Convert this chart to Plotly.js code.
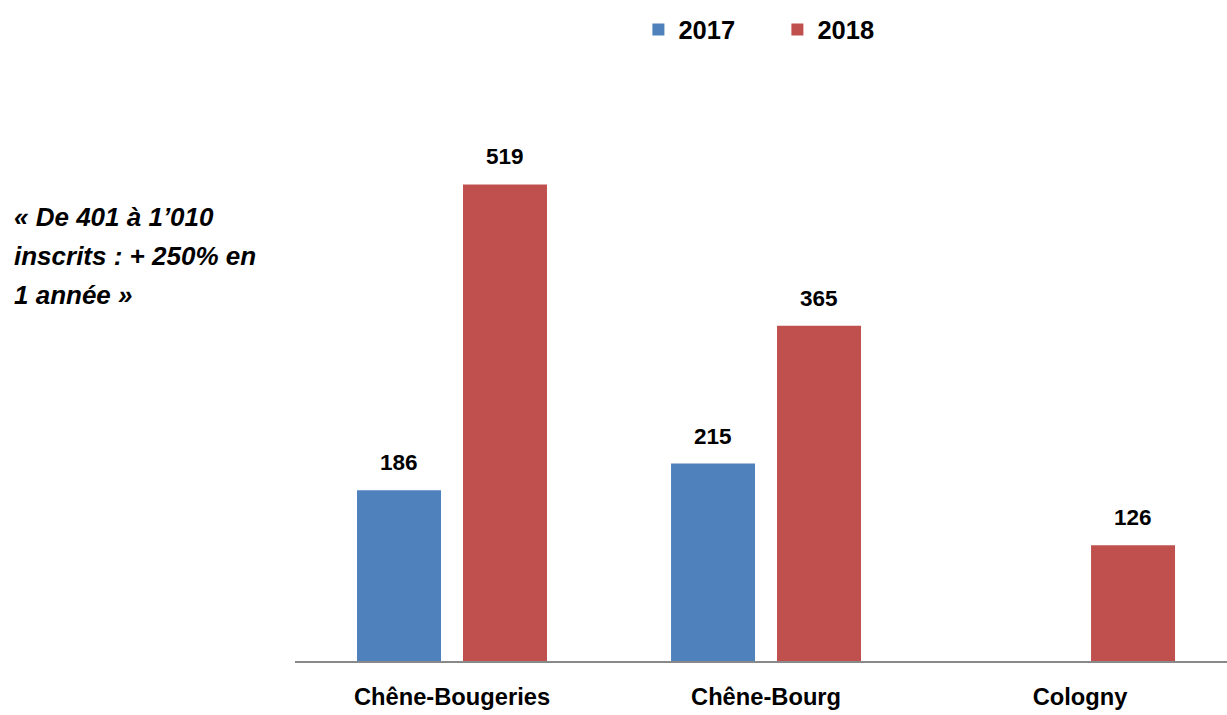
<!DOCTYPE html>
<html>
<head>
<meta charset="utf-8">
<script src="https://cdn.plot.ly/plotly-3.0.1.min.js"></script>
<style>html,body{margin:0;padding:0;background:#fff;}#chart{width:1227px;height:715px;}</style>
</head>
<body>
<div id="chart"></div>
<script>
const categories = ["Chêne-Bougeries", "Chêne-Bourg", "Cologny"];
const values2017 = [186, 215, null];
const values2018 = [519, 365, 126];
const seriesNames = ["2017", "2018"];
const noteLines = ["« De 401 à 1’010", "inscrits : + 250% en", "1 année »"];

const FONT = '"Liberation Sans", Arial, sans-serif';
const COLORS = ['#4F81BD', '#C0504D'];

// layout constants
const W = 1227, H = 715, ML = 295, MT = 110, MB = 54;
const XRANGE = [-0.5, 2.468];
const BARGAP = 0.325, BARGROUPGAP = 0.2075;
const pxPerCat = (W - ML) / (XRANGE[1] - XRANGE[0]);
const slotPx = pxPerCat * (1 - BARGAP) / 2;

const traces = [
  {type: 'bar', name: seriesNames[0], x: categories, y: values2017, marker: {color: COLORS[0]}},
  {type: 'bar', name: seriesNames[1], x: categories, y: values2018, marker: {color: COLORS[1]}}
];

const labelFont = {family: FONT, size: 22.5, color: '#000', weight: 'bold'};
const annotations = [];
[values2017, values2018].forEach((vals, si) => {
  vals.forEach((v, i) => {
    if (v == null) return;
    annotations.push({
      x: categories[i], y: v, xref: 'x', yref: 'y',
      text: String(v), showarrow: false, xanchor: 'center', yanchor: 'bottom',
      xshift: (si === 0 ? -1 : 1) * slotPx / 2, yshift: 13, font: labelFont
    });
  });
});
const notePaperY = [0.8058, 0.7350, 0.6642];
noteLines.forEach((line, i) => {
  annotations.push({
    xref: 'paper', yref: 'paper', x: -0.3036, y: notePaperY[i], xanchor: 'left', yanchor: 'middle',
    align: 'left', showarrow: false, text: line,
    font: {family: FONT, size: 26, color: '#000', weight: 'bold', style: 'italic'}
  });
});

const layout = {
  width: W, height: H,
  margin: {l: ML, r: 0, t: MT, b: MB, pad: 0, autoexpand: false},
  paper_bgcolor: '#fff', plot_bgcolor: '#fff',
  barmode: 'group', bargap: BARGAP, bargroupgap: BARGROUPGAP,
  font: {family: FONT, color: '#000'},
  showlegend: true,
  legend: {orientation: 'h', x: 0.5176, xanchor: 'center', y: 1.1454, yanchor: 'middle',
           font: {family: FONT, size: 25.5, color: '#000', weight: 'bold'},
           entrywidth: 94, entrywidthmode: 'pixels', traceorder: 'normal'},
  xaxis: {type: 'category', range: XRANGE, showline: true, linecolor: '#898989', linewidth: 2,
          showgrid: false, zeroline: false, ticks: '', ticklabelstandoff: 14,
          tickfont: {family: FONT, size: 23.7, color: '#000', weight: 'bold'}, fixedrange: true},
  yaxis: {range: [0, 600], visible: false, showgrid: false, zeroline: false, fixedrange: true},
  annotations: annotations
};

Plotly.newPlot('chart', traces, layout, {displayModeBar: false, staticPlot: true});
</script>
</body>
</html>
